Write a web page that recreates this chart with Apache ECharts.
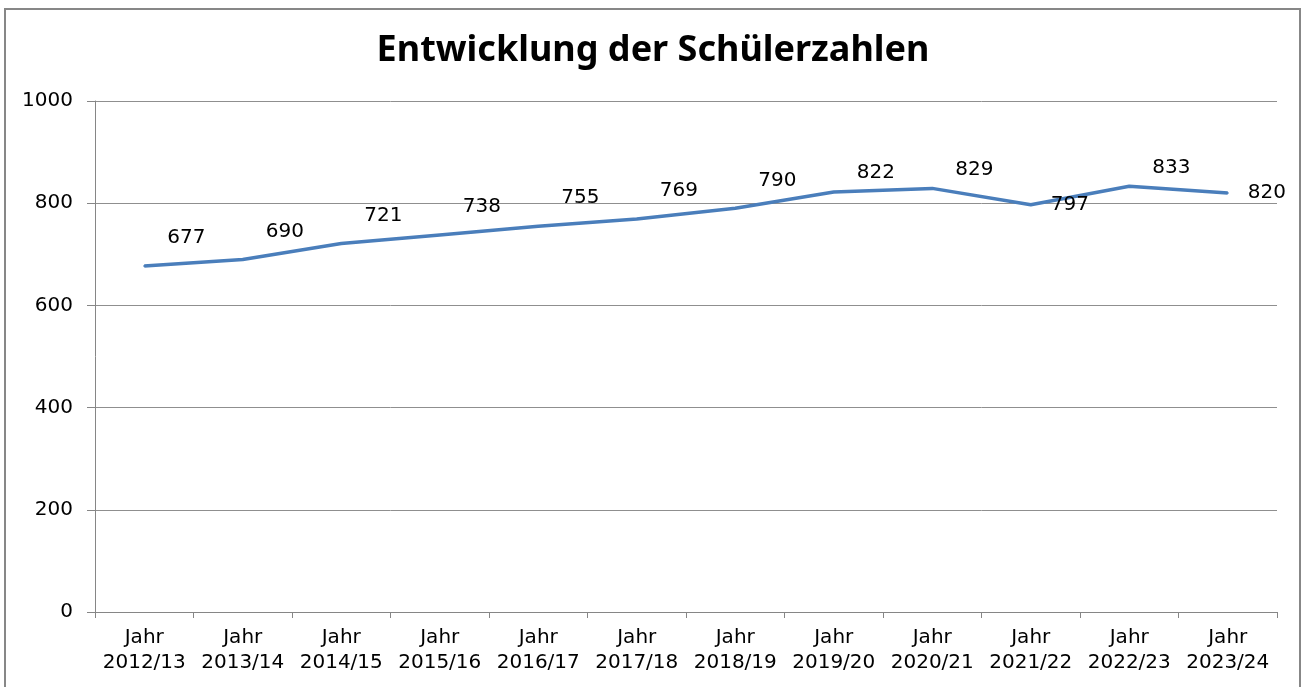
<!DOCTYPE html>
<html>
<head>
<meta charset="utf-8">
<script src="https://cdn.jsdelivr.net/npm/echarts@6/dist/echarts.min.js"></script>
<style>
  html, body { margin: 0; padding: 0; background: #fff; }
  #chart { width: 1306px; height: 687px; }
</style>
</head>
<body>
<div id="chart"></div>
<script>
const years = ['2012/13', '2013/14', '2014/15', '2015/16', '2016/17', '2017/18',
  '2018/19', '2019/20', '2020/21', '2021/22', '2022/23', '2023/24'];
const pupils = [677, 690, 721, 738, 755, 769, 790, 822, 829, 797, 833, 820];
const yTicks = { min: 0, max: 1000, step: 200 };

const categories = years.map(y => 'Jahr\n' + y);

// Excel placed the labels above-right of the points; a few sit lower
const levelLabels = [9, 11];
const lowLabels = [7, 8, 10];
const labelPos = i => {
  if (levelLabels.includes(i)) return [21, -9];
  if (lowLabels.includes(i)) return [24, -28];
  return [24, -37];
};
const seriesData = pupils.map((v, i) => ({ value: v, label: { position: labelPos(i) } }));

const chart = echarts.init(document.getElementById('chart'));
chart.setOption({
  animation: false,
  textStyle: { fontFamily: 'DejaVu Sans' },
  title: {
    text: 'Entwicklung der Schülerzahlen',
    left: 'center',
    top: 28,
    textStyle: { fontFamily: 'Noto Sans', fontWeight: 'bold', fontSize: 36, color: '#000' }
  },
  graphic: [{
    type: 'rect',
    shape: { x: 5, y: 9, width: 1295, height: 700 },
    style: { fill: 'none', stroke: '#878787', lineWidth: 2 },
    silent: true
  }],
  grid: { left: 95, right: 29, top: 101, bottom: 75 },
  xAxis: {
    type: 'category',
    data: categories,
    boundaryGap: true,
    axisLine: { lineStyle: { color: '#868686', width: 1 } },
    axisTick: { show: true, length: 6, alignWithLabel: false, lineStyle: { color: '#868686' } },
    axisLabel: { color: '#000', fontSize: 20, lineHeight: 25, margin: 13, interval: 0 }
  },
  yAxis: {
    type: 'value',
    min: yTicks.min,
    max: yTicks.max,
    interval: yTicks.step,
    axisLine: { show: true, lineStyle: { color: '#868686', width: 1 } },
    axisTick: { show: true, length: 8, lineStyle: { color: '#868686' } },
    axisLabel: { color: '#000', fontSize: 20, margin: 22, formatter: v => String(v) },
    splitLine: { lineStyle: { color: '#8f8f8f', width: 1 } }
  },
  series: [{
    type: 'line',
    data: seriesData,
    symbol: 'circle',
    symbolSize: 2,
    showSymbol: true,
    showAllSymbol: true,
    lineStyle: { color: '#4a7ebb', width: 3.5 },
    itemStyle: { color: '#4a7ebb', borderWidth: 0 },
    label: {
      show: true,
      align: 'left',
      verticalAlign: 'top',
      color: '#000',
      fontSize: 20,
      fontFamily: 'DejaVu Sans'
    },
    labelLayout: { hideOverlap: false }
  }]
});
</script>
</body>
</html>
